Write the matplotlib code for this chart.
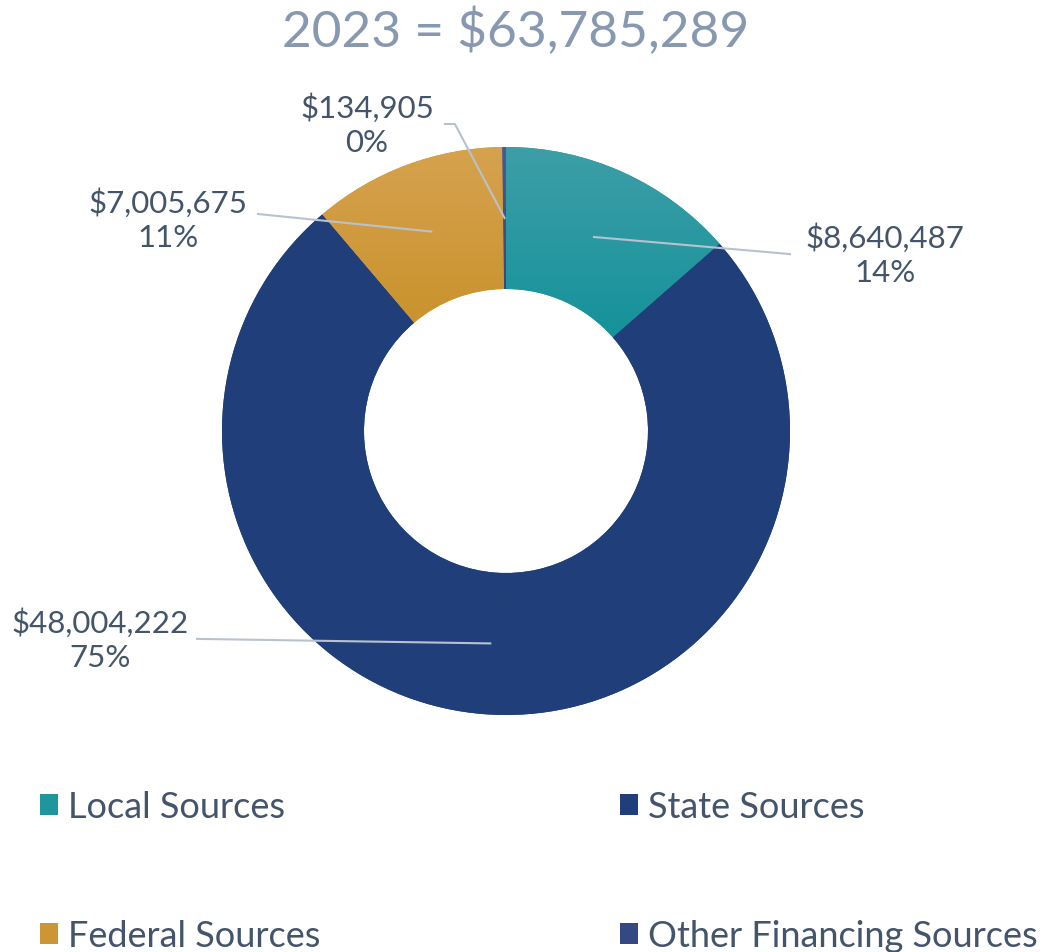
import numpy as np
import matplotlib.pyplot as plt
from matplotlib.colors import LinearSegmentedColormap

# ------ donnees --------------------------------------------------
categories = ["Local Sources", "State Sources", "Federal Sources", "Other Financing Sources"]
valeurs = [8640487, 48004222, 7005675, 134905]
titre = "2023 = $63,785,289"

# couleurs (haut, bas) pour le degrade vertical de chaque part
couleurs = [("#3e9ea7", "#008c94"),
            ("#203f7a", "#203f7a"),
            ("#d6a24e", "#c2891a"),
            ("#4b5b92", "#1d3476")]

# position des etiquettes (unites du rayon) et coude eventuel
pos_etiq = [(1.335, 0.623), (-1.43, -0.732), (-1.19, 0.746), (-0.489, 1.081)]
fin_ligne = [[(1.0, 0.623)], [(-1.088, -0.732)], [(-0.873, 0.764)],
             [(-0.18, 1.081), (-0.215, 1.081)]]
# -----------------------------------------------------------------

plt.rcParams['font.family'] = ['Lato', 'DejaVu Sans']
txt = "#44546a"

W, H = 1049, 953
cx, cy, R = 506, 432, 284
fig = plt.figure(figsize=(W / 100, H / 100), dpi=100)
ax = fig.add_axes([0, 0, 1, 1])

wedges, _ = ax.pie(valeurs, startangle=90, counterclock=False, radius=1,
                   wedgeprops=dict(width=0.5, linewidth=0))

# degrade vertical clippe sur chaque part
for w, (haut, bas) in zip(wedges, couleurs):
    cmap = LinearSegmentedColormap.from_list("g", [bas, haut])
    v = w.get_path().vertices
    x0, x1 = v[:, 0].min(), v[:, 0].max()
    y0, y1 = v[:, 1].min(), v[:, 1].max()
    grad = np.linspace(0, 1, 256).reshape(-1, 1)
    im = ax.imshow(grad, cmap=cmap, origin="lower", extent=[x0, x1, y0, y1],
                   aspect="auto", zorder=2)
    im.set_clip_path(w)
    w.set_facecolor(cmap(0.5))

total = sum(valeurs)
cumul = 0
for i, val in enumerate(valeurs):
    frac = val / total
    ang = np.deg2rad(90 - 360 * (cumul + frac / 2))
    cumul += frac
    x_start, y_start = 0.75 * np.cos(ang), 0.75 * np.sin(ang)
    pts = [(x_start, y_start)] + fin_ligne[i]
    ax.plot([p[0] for p in pts], [p[1] for p in pts], color="#b8c2cf", lw=1.5, zorder=3)
    ax.text(pos_etiq[i][0], pos_etiq[i][1], "${:,}\n{:.0f}%".format(val, 100 * frac),
            ha="center", va="center", fontsize=22.5, color=txt, linespacing=1.3, zorder=4)

ax.set_xlim(-cx / R, (W - cx) / R)
ax.set_ylim(-(H - cy) / R, cy / R)
ax.set_aspect("auto")
ax.axis("off")

fig.text(516 / W, 1 - 32 / H, titre, ha="center", va="center",
         fontsize=37, color="#8798b1")

ordre = [0, 2, 1, 3]
leg = fig.legend([wedges[k] for k in ordre], [categories[k] for k in ordre],
                 ncol=2, loc="upper left", bbox_to_anchor=(0.038, 0.1697),
                 frameon=False, fontsize=26, labelcolor=txt,
                 handlelength=0.5, handleheight=0.5, handletextpad=0.28,
                 labelspacing=2.66, columnspacing=8.3, borderpad=0,
                 borderaxespad=0)

plt.savefig("out.png", dpi=100)
